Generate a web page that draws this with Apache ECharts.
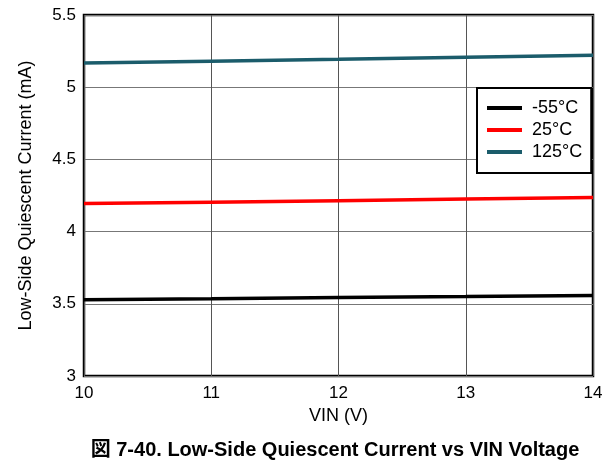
<!DOCTYPE html>
<html><head><meta charset="utf-8">
<script src="https://cdn.jsdelivr.net/npm/echarts@6/dist/echarts.min.js"></script>
<style>html,body{margin:0;padding:0;background:#fff}#c{width:616px;height:464px}</style>
</head><body><div id="c"></div>
<script>
const vin = [10, 11, 12, 13, 14];
const seriesNames = ['-55°C', '25°C', '125°C'];
const iqM55 = [3.528, 3.535, 3.543, 3.550, 3.558];
const iq25 = [4.194, 4.204, 4.214, 4.225, 4.236];
const iq125 = [5.167, 5.180, 5.193, 5.207, 5.222];
const colors = ['#000000', '#ff0000', '#1b5c6b'];
const FONT = 'Arial, "Liberation Sans", "Noto Sans CJK JP", sans-serif';
const allData = [iqM55, iq25, iq125];
const chart = echarts.init(document.getElementById('c'), null, {renderer: 'canvas'});
chart.setOption({
  animation: false,
  backgroundColor: '#fff',
  title: {
    text: '図 7-40. Low-Side Quiescent Current vs VIN Voltage',
    left: 330, top: 435, textAlign: 'center',
    textStyle: {fontFamily: FONT, fontSize: 20, fontWeight: 'bold', color: '#000'}
  },
  grid: {left: 84, right: 23, top: 15, bottom: 88, show: true, borderColor: '#000', borderWidth: 2.5},
  legend: {
    data: seriesNames,
    orient: 'vertical',
    left: 477, top: 88,
    padding: [11, 9, 12, 10],
    itemGap: 4,
    itemWidth: 35, itemHeight: 4,
    icon: 'rect',
    backgroundColor: '#fff',
    borderColor: '#000', borderWidth: 2,
    textStyle: {fontFamily: FONT, fontSize: 18, color: '#000', padding: [0, 0, 0, 5]}
  },
  xAxis: {
    type: 'value', min: 10, max: 14, interval: 1,
    name: 'VIN (V)', nameLocation: 'middle', nameGap: 26,
    nameTextStyle: {fontFamily: FONT, fontSize: 18, color: '#000'},
    axisLine: {show: false}, axisTick: {show: false},
    axisLabel: {fontFamily: FONT, fontSize: 17, color: '#000', margin: 9},
    splitLine: {show: true, lineStyle: {color: '#555', width: 1}}
  },
  yAxis: {
    type: 'value', min: 3, max: 5.5, interval: 0.5,
    name: 'Low-Side Quiescent Current (mA)', nameLocation: 'middle', nameGap: 49,
    nameTextStyle: {fontFamily: FONT, fontSize: 18, color: '#000'},
    axisLine: {show: false}, axisTick: {show: false},
    axisLabel: {fontFamily: FONT, fontSize: 17, color: '#000', margin: 8},
    splitLine: {show: true, lineStyle: {color: '#777', width: 1}}
  },
  series: seriesNames.map((n, i) => ({
    name: n, type: 'line', showSymbol: false, symbol: 'none',
    data: vin.map((x, j) => [x, allData[i][j]]),
    lineStyle: {color: colors[i], width: 3.5},
    itemStyle: {color: colors[i]}
  }))
});
</script></body></html>
